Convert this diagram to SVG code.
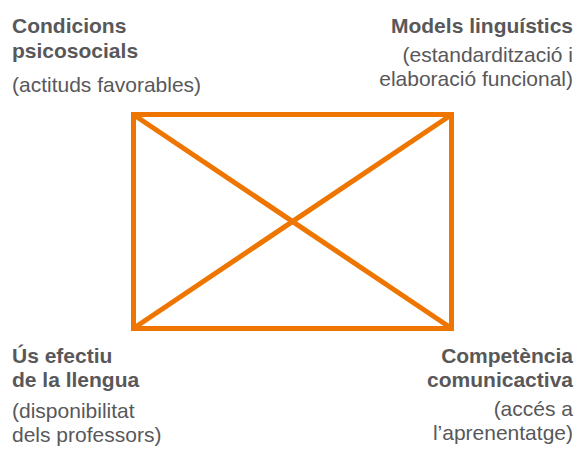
<svg xmlns="http://www.w3.org/2000/svg" width="577" height="450" viewBox="0 0 577 450">
<style>
text{font-family:"Liberation Sans",Arial,sans-serif;font-size:21px;fill:#58585a}
.b{font-weight:bold}
.r{text-anchor:end}
.ln{stroke:#ee7600;stroke-width:5;fill:none}
</style>
<rect width="577" height="450" fill="#fff"/>
<g id="connectors">
<rect class="ln" x="133.5" y="114.5" width="318" height="214"/>
<line class="ln" x1="134" y1="115" x2="451" y2="328"/>
<line class="ln" x1="451" y1="115" x2="134" y2="328"/>
</g>
<g id="node-tl">
<text class="b" x="12" y="33">Condicions</text>
<text class="b" x="12" y="58">psicosocials</text>
<text x="12" y="92">(actituds favorables)</text>
</g>
<g id="node-tr">
<text class="b r" x="573" y="33">Models linguístics</text>
<text class="r" x="573" y="62">(estandardització i</text>
<text class="r" x="573" y="86">elaboració funcional)</text>
</g>
<g id="node-bl">
<text class="b" x="12" y="363">Ús efectiu</text>
<text class="b" x="12" y="387">de la llengua</text>
<text x="12" y="418">(disponibilitat</text>
<text x="12" y="442">dels professors)</text>
</g>
<g id="node-br">
<text class="b r" x="573" y="363">Competència</text>
<text class="b r" x="573" y="387">comunicactiva</text>
<text class="r" x="573" y="416">(accés a</text>
<text class="r" x="573" y="440">l’aprenentatge)</text>
</g>
</svg>
